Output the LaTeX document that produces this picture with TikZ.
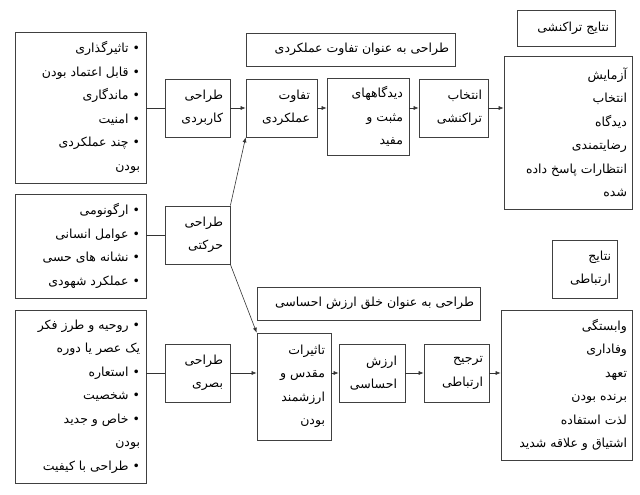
\documentclass[tikz,border=0pt]{standalone}
\usepackage{fontspec}
\setmainfont{DejaVu Sans}[Script=Arabic]
\TeXXeTstate=1
\usetikzlibrary{arrows.meta}
\newcommand{\RL}[1]{\beginR #1\endR}
\begin{document}
\begin{tikzpicture}[x=1pt,y=-1pt,
  bx/.style={draw=black!75,line width=0.7pt,minimum width=#1,inner sep=0pt,font=\fontsize{12.5}{23.5}\selectfont},
  arr/.style={-{Latex[length=5pt,width=4pt]},line width=0.6pt,black!80},
  ln/.style={line width=0.6pt,black!80}]
\useasboundingbox (0,0) rectangle (640,495);
\newcommand{\bxx}[7]{\node[bx=#4,minimum height=#5] (#1) at (#2,#3) {\begin{minipage}{\dimexpr#4-#6\relax}\raggedleft #7\end{minipage}};}
\bxx{A}{80.5}{107.5}{131pt}{151pt}{12pt}{\RL{• تاثیرگذاری}\\\RL{• قابل اعتماد بودن}\\\RL{• ماندگاری}\\\RL{• امنیت}\\\RL{• چند عملکردی}\\\RL{بودن\ \ \ }}
\bxx{B}{80.5}{246}{131pt}{104pt}{12pt}{\RL{• ارگونومی}\\\RL{• عوامل انسانی}\\\RL{• نشانه های حسی}\\\RL{• عملکرد شهودی}}
\bxx{C}{80.5}{396.5}{131pt}{173pt}{12pt}{\RL{• روحیه و طرز فکر}\\\RL{یک عصر یا دوره\ \ }\\\RL{• استعاره}\\\RL{• شخصیت}\\\RL{• خاص و جدید}\\\RL{بودن\ \ }\\\RL{• طراحی با کیفیت}}
\bxx{k}{197.5}{108}{65pt}{58pt}{14pt}{\RL{طراحی}\\\RL{کاربردی}}
\bxx{h}{197.5}{235}{65pt}{58pt}{14pt}{\RL{طراحی}\\\RL{حرکتی}}
\bxx{b}{197.5}{373}{65pt}{58pt}{14pt}{\RL{طراحی}\\\RL{بصری}}
\bxx{t}{281.5}{108}{71pt}{58pt}{14pt}{\RL{تفاوت}\\\RL{عملکردی}}
\bxx{L1}{350.5}{49.5}{209pt}{33pt}{12pt}{\RL{طراحی به عنوان تفاوت عملکردی}}
\bxx{d}{368}{116.5}{82pt}{77pt}{12pt}{\RL{دیدگاههای}\\\RL{مثبت و}\\\RL{مفید}}
\bxx{e}{453.5}{108}{69pt}{58pt}{12pt}{\RL{انتخاب}\\\RL{تراکنشی}}
\bxx{R1}{568}{132.5}{128pt}{153pt}{10pt}{\RL{آزمایش}\\\RL{انتخاب}\\\RL{دیدگاه}\\\RL{رضایتمندی}\\\RL{انتظارات پاسخ داده}\\\RL{شده}}
\bxx{N1}{566}{28}{98pt}{36pt}{12pt}{\RL{نتایج تراکنشی}}
\bxx{ta}{294}{386.5}{74pt}{107pt}{12pt}{\RL{تاثیرات}\\\RL{مقدس و}\\\RL{ارزشمند}\\\RL{بودن}}
\bxx{L2}{368.5}{303.5}{223pt}{33pt}{12pt}{\RL{طراحی به عنوان خلق ارزش احساسی}}
\bxx{ar}{372}{373}{66pt}{58pt}{16pt}{\RL{ارزش}\\\RL{احساسی}}
\bxx{tr}{456.5}{373}{65pt}{58pt}{12pt}{\RL{ترجیح}\\\RL{ارتباطی}}
\bxx{R2}{566.5}{385}{131pt}{150pt}{10pt}{\RL{وابستگی}\\\RL{وفاداری}\\\RL{تعهد}\\\RL{برنده بودن}\\\RL{لذت استفاده}\\\RL{اشتیاق و علاقه شدید}}
\bxx{N2}{584.5}{269}{65pt}{58pt}{12pt}{\RL{نتایج}\\\RL{ارتباطی}}
\draw[ln] (A.east |- k.west) -- (k.west);
\draw[ln] (B.east |- h.west) -- (h.west);
\draw[ln] (C.east |- b.west) -- (b.west);
\draw[arr] (k.east) -- (t.west);
\draw[arr] (t.east) -- (t.east -| d.west);
\draw[arr] (d.west -| d.east) ++(0,-8.5) -- (e.west);
\draw[arr] (e.east) -- (e.east -| R1.west);
\draw[arr] (h.north east) -- (t.south west);
\draw[arr] (h.south east) -- (ta.north west);
\draw[arr] (b.east) -- (b.east -| ta.west);
\draw[arr] (ta.east |- ar.west) -- (ar.west);
\draw[arr] (ar.east) -- (tr.west);
\draw[arr] (tr.east) -- (tr.east -| R2.west);
\end{tikzpicture}
\end{document}
